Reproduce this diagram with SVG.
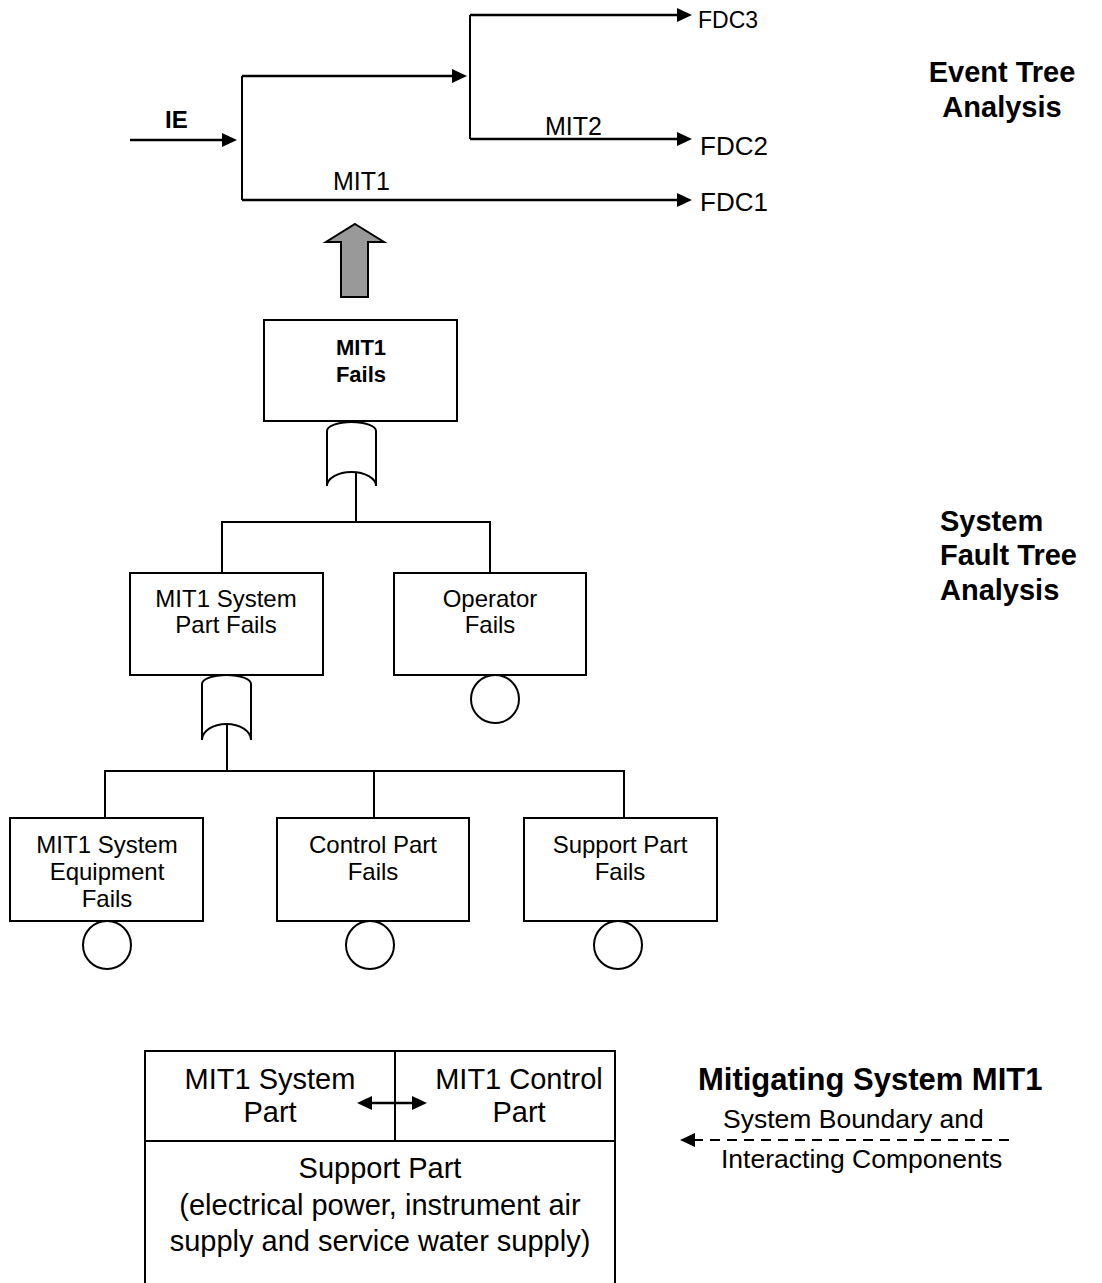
<svg xmlns="http://www.w3.org/2000/svg" width="1102" height="1283" viewBox="0 0 1102 1283">
  <defs>
    <marker id="head" markerUnits="userSpaceOnUse" viewBox="0 0 15 14" markerWidth="15" markerHeight="14" refX="2" refY="7" orient="auto">
      <path d="M0,0 L15,7 L0,14 Z" fill="#000"/>
    </marker>
    <marker id="headStart" markerUnits="userSpaceOnUse" viewBox="0 0 15 14" markerWidth="15" markerHeight="14" refX="13" refY="7" orient="auto">
      <path d="M15,0 L0,7 L15,14 Z" fill="#000"/>
    </marker>
    <style>
      text { font-family: "Liberation Sans", Arial, sans-serif; fill: #000; }
      .title { font-size: 29px; font-weight: bold; }
      .et { font-size: 25px; }
      .ft { font-size: 24px; text-anchor: middle; }
      .ftb { font-size: 22px; font-weight: bold; text-anchor: middle; }
      .sys { font-size: 29px; text-anchor: middle; }
      .note { font-size: 26.5px; }
      .line { fill: none; stroke: #000; stroke-width: 2; }
      .box { fill: #fff; stroke: #000; stroke-width: 2; }
      .arrow { fill: none; stroke: #000; stroke-width: 2.5; marker-end: url(#head); }
      .gate { fill: #fff; stroke: #000; stroke-width: 2; }
    </style>
  </defs>

  <!-- Section headings -->
  <g id="heading-eta">
    <text class="title" x="1002" y="82" text-anchor="middle">Event Tree</text>
    <text class="title" x="1002" y="117" text-anchor="middle">Analysis</text>
  </g>
  <g id="heading-fta">
    <text class="title" x="940" y="531">System</text>
    <text class="title" x="940" y="565">Fault Tree</text>
    <text class="title" x="940" y="600">Analysis</text>
  </g>
  <g id="heading-mit">
    <text class="title" x="698" y="1090" style="font-size:31px">Mitigating System MIT1</text>
  </g>

  <!-- Event tree branches -->
  <g id="event-tree">
    <line class="arrow" x1="130" y1="140" x2="224" y2="140"/>
    <path class="line" d="M242,200 L242,76"/>
    <line class="arrow" x1="242" y1="76" x2="454" y2="76"/>
    <path class="line" d="M470,139 L470,15"/>
    <line class="arrow" x1="470" y1="15" x2="679" y2="15"/>
    <line class="arrow" x1="470" y1="139" x2="679" y2="139"/>
    <line class="arrow" x1="242" y1="200" x2="679" y2="200"/>
    <text x="165" y="128" style="font-size:24px;font-weight:bold">IE</text>
    <text class="et" x="545" y="135">MIT2</text>
    <text class="et" x="333" y="190">MIT1</text>
    <text x="698" y="28" style="font-size:23px">FDC3</text>
    <text x="700" y="155" style="font-size:26px">FDC2</text>
    <text x="700" y="211" style="font-size:26px">FDC1</text>
  </g>

  <!-- Link from fault tree top event up to the event tree -->
  <g id="link-arrow">
    <path d="M355,224 L384,242 L368,242 L368,297 L341,297 L341,242 L326,242 Z" fill="#999" stroke="#000" stroke-width="2" stroke-linejoin="miter"/>
  </g>

  <!-- Fault tree connectors -->
  <g id="connectors">
    <path class="line" d="M356,472 L356,522"/>
    <path class="line" d="M222,573 L222,522 L490,522 L490,573"/>
    <path class="line" d="M227,723 L227,771"/>
    <path class="line" d="M105,818 L105,771 L624,771 L624,818"/>
    <path class="line" d="M374,771 L374,818"/>
  </g>

  <!-- Fault tree nodes -->
  <g id="top-event">
    <rect class="box" x="264" y="320" width="193" height="101"/>
    <text class="ftb" x="361" y="355">MIT1</text>
    <text class="ftb" x="361" y="382">Fails</text>
  </g>
  <g id="or-gate-top">
    <path class="gate" d="M327,486 L327,431 A24.5,9 0 0 1 376,431 L376,486 A24.5,14 0 0 0 327,486 Z"/>
  </g>
  <g id="system-part">
    <rect class="box" x="130" y="573" width="193" height="102"/>
    <text class="ft" x="226" y="607">MIT1 System</text>
    <text class="ft" x="226" y="633">Part Fails</text>
  </g>
  <g id="operator">
    <rect class="box" x="394" y="573" width="192" height="102"/>
    <text class="ft" x="490" y="607">Operator</text>
    <text class="ft" x="490" y="633">Fails</text>
    <circle class="box" cx="495" cy="699" r="24"/>
  </g>
  <g id="or-gate-system">
    <path class="gate" d="M202,740 L202,684 A24.5,9 0 0 1 251,684 L251,740 A24.5,16 0 0 0 202,740 Z"/>
  </g>
  <g id="equipment">
    <rect class="box" x="10" y="818" width="193" height="103"/>
    <text class="ft" x="107" y="853">MIT1 System</text>
    <text class="ft" x="107" y="880">Equipment</text>
    <text class="ft" x="107" y="907">Fails</text>
    <circle class="box" cx="107" cy="945" r="24"/>
  </g>
  <g id="control-part">
    <rect class="box" x="277" y="818" width="192" height="103"/>
    <text class="ft" x="373" y="853">Control Part</text>
    <text class="ft" x="373" y="880">Fails</text>
    <circle class="box" cx="370" cy="945" r="24"/>
  </g>
  <g id="support-part">
    <rect class="box" x="524" y="818" width="193" height="103"/>
    <text class="ft" x="620" y="853">Support Part</text>
    <text class="ft" x="620" y="880">Fails</text>
    <circle class="box" cx="618" cy="945" r="24"/>
  </g>

  <!-- Mitigating system block -->
  <g id="mitigating-system">
    <path class="line" d="M145,1290 L145,1051 L615,1051 L615,1290"/>
    <path class="line" d="M145,1141 L615,1141"/>
    <path class="line" d="M395,1051 L395,1141"/>
    <text class="sys" x="270" y="1089">MIT1 System</text>
    <text class="sys" x="270" y="1122">Part</text>
    <text class="sys" x="519" y="1089">MIT1 Control</text>
    <text class="sys" x="519" y="1122">Part</text>
    <line x1="370" y1="1103" x2="414" y2="1103" stroke="#000" stroke-width="2.5" marker-start="url(#headStart)" marker-end="url(#head)"/>
    <text class="sys" x="380" y="1178">Support Part</text>
    <text class="sys" x="380" y="1215">(electrical power, instrument air</text>
    <text class="sys" x="380" y="1251">supply and service water supply)</text>
  </g>

  <!-- System boundary legend -->
  <g id="boundary-legend">
    <line x1="693" y1="1140" x2="1015" y2="1140" stroke="#000" stroke-width="2" stroke-dasharray="10,7" marker-start="url(#headStart)"/>
    <text class="note" x="723" y="1128">System Boundary and</text>
    <text class="note" x="721" y="1168">Interacting Components</text>
  </g>
</svg>
